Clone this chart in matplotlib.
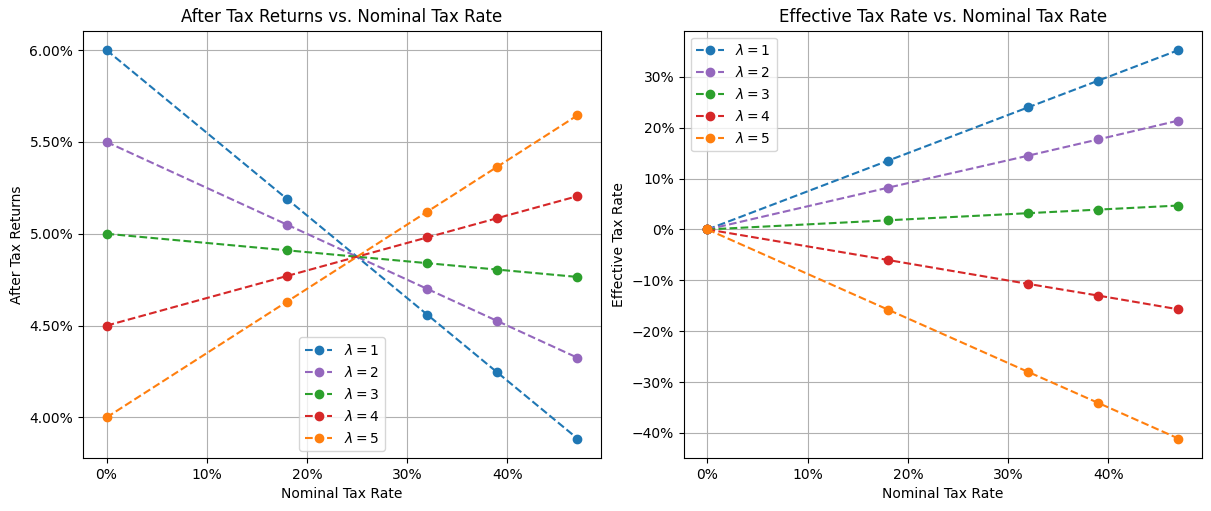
import numpy as np
import matplotlib
matplotlib.use("Agg")
import matplotlib.pyplot as plt
from matplotlib.ticker import PercentFormatter

# nominal tax rates
tax_rates = [0.0, 0.18, 0.32, 0.39, 0.47]
lambdas = [1, 2, 3, 4, 5]

# after tax returns (fractions) per lambda
after_tax = {
    1: [0.0600, 0.0519, 0.0456, 0.04245, 0.03885],
    2: [0.0550, 0.0505, 0.0470, 0.04525, 0.04325],
    3: [0.0500, 0.0491, 0.0484, 0.04805, 0.04765],
    4: [0.0450, 0.0477, 0.0498, 0.05085, 0.05205],
    5: [0.0400, 0.0463, 0.0512, 0.05365, 0.05645],
}

# effective tax rate per lambda
eff_tax = {
    1: [0.0, 0.135, 0.240, 0.2925, 0.3525],
    2: [0.0, 0.082, 0.145, 0.177, 0.214],
    3: [0.0, 0.018, 0.032, 0.039, 0.047],
    4: [0.0, -0.060, -0.107, -0.130, -0.157],
    5: [0.0, -0.1575, -0.280, -0.341, -0.411],
}

colors = {1: 'tab:blue', 2: 'tab:purple', 3: 'tab:green', 4: 'tab:red', 5: 'tab:orange'}

fig, (ax1, ax2) = plt.subplots(1, 2, figsize=(12.11, 5.11), dpi=100)
fig.subplots_adjust(left=0.0685, right=0.9926, bottom=0.1037, top=0.940, wspace=0.16)

for lam in lambdas:
    ax1.plot(tax_rates, after_tax[lam], '--o', color=colors[lam], label=r'$\lambda = %d$' % lam)
    ax2.plot(tax_rates, eff_tax[lam], '--o', color=colors[lam], label=r'$\lambda = %d$' % lam)

ax1.set_title('After Tax Returns vs. Nominal Tax Rate')
ax1.set_xlabel('Nominal Tax Rate')
ax1.set_ylabel('After Tax Returns')
ax1.xaxis.set_major_formatter(PercentFormatter(1, decimals=0))
ax1.yaxis.set_major_formatter(PercentFormatter(1, decimals=2))
ax1.set_yticks([0.04, 0.045, 0.05, 0.055, 0.06])
ax1.grid(True)
ax1.legend(loc='lower center')

ax2.set_title('Effective Tax Rate vs. Nominal Tax Rate')
ax2.set_xlabel('Nominal Tax Rate')
ax2.set_ylabel('Effective Tax Rate')
ax2.xaxis.set_major_formatter(PercentFormatter(1, decimals=0))
ax2.yaxis.set_major_formatter(PercentFormatter(1, decimals=0))
ax2.grid(True)
ax2.legend(loc='upper left')

plt.savefig('out.png')
